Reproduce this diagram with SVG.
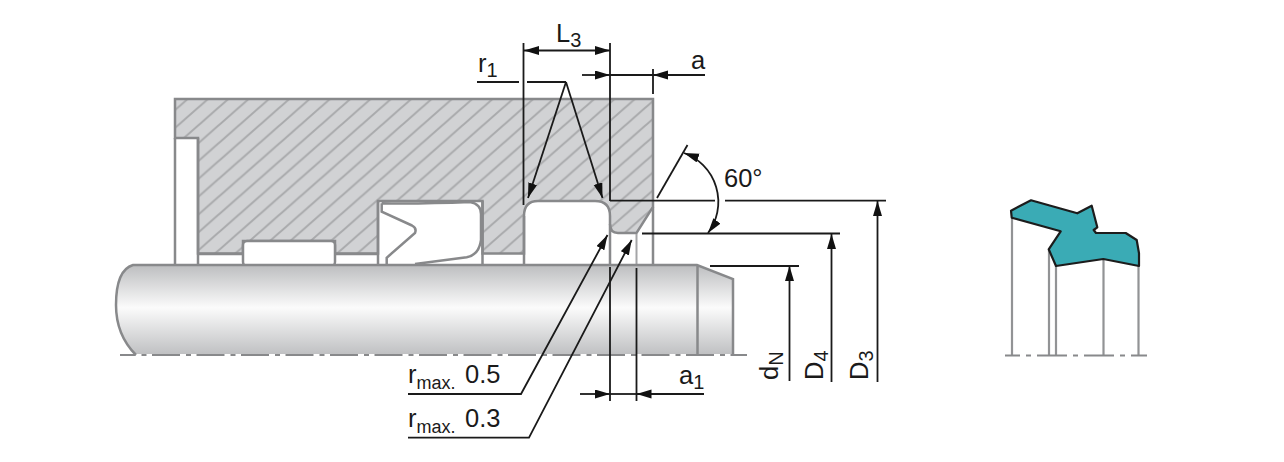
<svg xmlns="http://www.w3.org/2000/svg" width="1284" height="462" viewBox="0 0 1284 462">
<style>
.g{fill:none;stroke:#88898b;stroke-width:2.5}
.thin{fill:none;stroke:#a4a5a7;stroke-width:2}
.d{fill:none;stroke:#1a1a1a;stroke-width:1.8}
.a{marker-end:url(#arr)}
.ab{marker-start:url(#arr);marker-end:url(#arr)}
.cl{fill:none;stroke:#88898b;stroke-width:2.2}
text{font-family:"Liberation Sans",Arial,sans-serif;font-size:25.5px;fill:#1a1a1a}
.s{font-size:20px}
.m{font-size:18px}
</style>
<defs>
<marker id="arr" markerUnits="userSpaceOnUse" markerWidth="16" markerHeight="10" refX="15" refY="4.5" orient="auto-start-reverse"><path d="M0 0L15 4.5L0 9Z" fill="#111"/></marker>
<pattern id="hatch" patternUnits="userSpaceOnUse" x="15.8" width="20.33" height="17.85"><rect width="20.33" height="17.85" fill="#d1d2d4"/><path d="M-2.03 19.63L22.36 -1.78M-5 4.39L5 -4.39M15.33 22.24L25.33 13.46" stroke="#a9aaac" stroke-width="2" fill="none"/></pattern>
<linearGradient id="sh" x1="0" y1="0" x2="0" y2="1"><stop offset="0" stop-color="#bdbec0"/><stop offset="0.48" stop-color="#fbfbfb"/><stop offset="1" stop-color="#c0c1c3"/></linearGradient>
</defs>
<g id="housing">
<path d="M175 99H653V207L636.5 233H618Q610 233 610 224V216Q610 201 595 201H538Q524 201 524 216V253.5H482.5V201H378V253.5H335V241H243V253.5H198V138H175Z" class="g" style="fill:url(#hatch)"/>
<path class="g" d="M175 138V266M198 138V266M198 254H243M335 254H378M378 201V266M482.5 201V266M524 216V266M610 224V266M653 207V266"/>
<path class="thin" d="M636.5 234V265"/>
</g>
<g id="o-ring"><rect x="243" y="241" width="92" height="25" rx="4" class="g" style="fill:#fff"/></g>
<g id="seal-section"><path class="g" d="M381.7 203.3V211.7L412 225.5Q417 228 415 233L386.7 257.7V265M381.7 203.3Q420 204 470 202Q481 204 481 214V240Q479 255 466.7 257.3L415 264"/></g>
<g id="shaft">
<path d="M133 265H697L733 279V354H135Q116 335 116 305Q116 270 133 265Z" fill="url(#sh)"/>
<path class="g" d="M136 355Q116 335 116 305Q116 270 133 265H697L733 279V355M697.5 265V355"/>
</g>
<g id="centerline-main"><path class="cl" d="M120 355H747" stroke-dasharray="28 6 5 5.5" stroke-dashoffset="12.5"/></g>
<g id="seal-profile">
<path class="g" d="M1012 218V355M1049 250V355M1056 266V355M1103.5 259V355M1138.5 266V355" style="stroke:#929395;stroke-width:2.2"/>
<path d="M1011 210.7L1031 200.3L1077.3 213.3L1091.7 205.7L1097.3 227.3L1093.7 230L1096 233H1125.7L1136.7 240L1139 253.3V266L1103.3 259L1056 266L1048.7 249.3L1060.7 231.3L1011.7 217.7Z" fill="#3aabb5" stroke="#1c1c1c" stroke-width="2.2" stroke-linejoin="round"/>
<path class="cl" d="M1005 355.5H1147" stroke-dasharray="30 6 5 6" stroke-dashoffset="15"/>
</g>
<g id="connectors">
<path class="d" d="M523.5 43V205M610 43V201M610 267V401M636.5 268V401M653 69V94"/>
<path class="d ab" d="M524 50.5H610"/>
<path class="d a" d="M582 75H610"/>
<path class="d" d="M610 75H653"/>
<path class="d a" d="M705 75H653"/>
<path class="d" d="M477 82H519M527 82H566"/>
<path class="d a" d="M566 82L528 198"/>
<path class="d a" d="M566 82L602.5 198"/>
<path class="d" d="M657 198L687.5 145"/>
<path class="d ab" d="M684 153A52 52 0 0 1 708 233"/>
<path class="d" d="M610 200.7H715M725 200.7H886M642 233.5H840M710 266H799"/>
<path class="d a" d="M877.5 382V201"/>
<path class="d a" d="M831.5 382V234"/>
<path class="d a" d="M789.5 381V266"/>
<path class="d a" d="M408 394H521L607.5 235"/>
<path class="d a" d="M408 437.7H529L631.7 240"/>
<path class="d a" d="M580 394H610"/>
<path class="d" d="M610 394H636.5"/>
<path class="d a" d="M704 394H636.5"/>
</g>
<g id="labels">
<text x="556" y="42">L<tspan class="s" dy="5">3</tspan></text>
<text x="478" y="72">r<tspan class="s" dy="5">1</tspan></text>
<text x="691" y="69">a</text>
<text x="724" y="187">60°</text>
<text x="408" y="383">r<tspan class="m" dy="6">max.</tspan><tspan x="465" dy="-6">0.5</tspan></text>
<text x="408" y="427">r<tspan class="m" dy="6">max.</tspan><tspan x="465" dy="-6">0.3</tspan></text>
<text x="679" y="384">a<tspan class="s" dy="5">1</tspan></text>
<text transform="translate(778 380) rotate(-90)">d<tspan class="s" dy="5">N</tspan></text>
<text transform="translate(822.5 380) rotate(-90)">D<tspan class="s" dy="5">4</tspan></text>
<text transform="translate(868 380) rotate(-90)">D<tspan class="s" dy="5">3</tspan></text>
</g>
</svg>
